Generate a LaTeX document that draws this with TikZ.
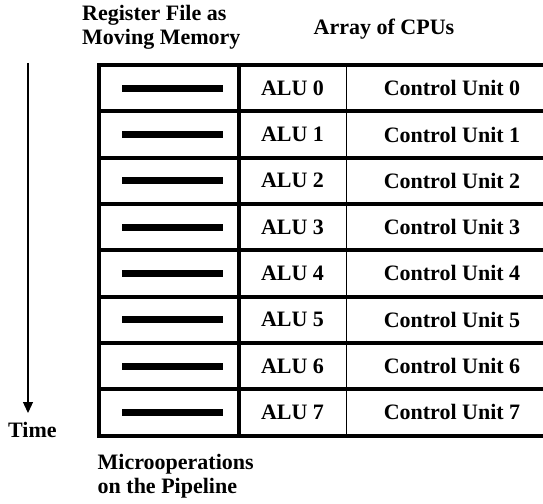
\documentclass[tikz,border=0pt]{standalone}
\usepackage{fontspec}
\setmainfont{Liberation Serif}
\usetikzlibrary{arrows.meta}
\tikzset{
  lbl/.style={font=\fontsize{22}{23.5}\selectfont\bfseries, inner sep=0pt},
  regbar/.style={fill=black, minimum width=101pt, minimum height=7pt, inner sep=0pt},
  thickrule/.style={line width=4pt},
}
\begin{document}
\begin{tikzpicture}[x=1pt,y=-1pt,>={Triangle[length=11pt,width=10pt]}]
\useasboundingbox (0,0) rectangle (543,503);
\coordinate (A) at (99,65);
\coordinate (B) at (543,65);
\coordinate (C) at (543,435.5);
\coordinate (D) at (99,435.5);

\draw[thickrule] (B)--(A)--(D)--(C);
\draw[thickrule] (239,65)--(239,435.5);
\draw[line width=1.5pt] (346.5,65)--(346.5,435.5);
\foreach \i in {1,...,7}
  \draw[thickrule] (99,65+46.3*\i)--(543,65+46.3*\i);

\foreach \i in {0,...,7}{
  \node[regbar] (reg\i) at (172.5,88.2+46.3*\i) {};
  \node[lbl] (alu\i) at (292.5,88.2+46.3*\i) {ALU \i};
  \node[lbl] (cu\i) at (452,88.2+46.3*\i) {Control Unit \i};
}

\node[lbl, anchor=north west, align=left] (regfile) at (82,5.5) {Register File as\\Moving Memory};
\node[lbl, anchor=base] (cpus) at (384,35) {Array of CPUs};
\node[lbl, anchor=north west, align=left] (microops) at (97.5,454.5) {Microoperations\\on the Pipeline};
\node[lbl, anchor=base west] (time) at (8,437) {Time};

\coordinate (tstart) at (28,63);
\coordinate (tend) at (28,413);
\draw[->,line width=1.3pt] (tstart)--(tend);
\end{tikzpicture}
\end{document}
